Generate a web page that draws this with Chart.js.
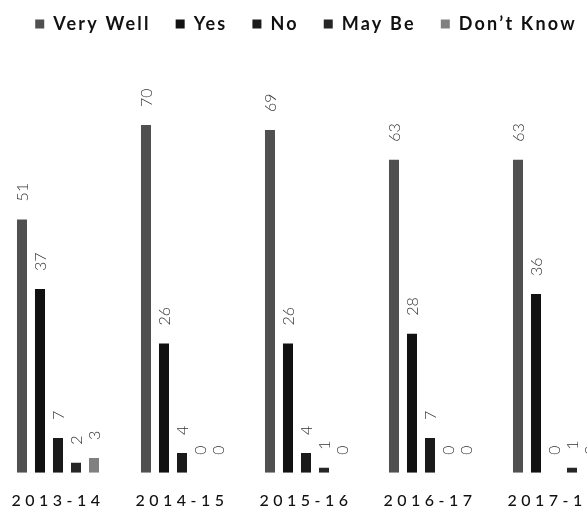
<!DOCTYPE html>
<html><head><meta charset="utf-8">
<script src="https://cdn.jsdelivr.net/npm/chart.js@4/dist/chart.umd.min.js"></script>
<style>
html,body{margin:0;padding:0;background:#fff;overflow:hidden;width:587px;height:513px;}
#wrap{position:absolute;left:-4px;top:0;width:620px;height:513px;}
</style></head><body>
<div id="wrap"><canvas id="c"></canvas></div>
<script>
const categories = ['2013-14','2014-15','2015-16','2016-17','2017-18'];
const seriesNames = ['Very Well','Yes','No','May Be','Don\u2019t Know'];
const veryWell = [51,70,69,63,63];
const yes = [37,26,26,28,36];
const no = [7,4,4,7,0];
const mayBe = [2,0,1,0,1];
const dontKnow = [3,0,0,0,0];
const seriesValues = [veryWell, yes, no, mayBe, dontKnow];
const colors = ['#505050','#111111','#1a1a1a','#262626','#808080'];

const valueLabels = {
  id:'valueLabels',
  afterDatasetsDraw(chart){
    const ctx = chart.ctx;
    chart.data.datasets.forEach((ds,i)=>{
      const meta = chart.getDatasetMeta(i);
      meta.data.forEach((bar,j)=>{
        ctx.save();
        ctx.letterSpacing = '0px';
        ctx.font = '300 16px Lato';
        ctx.fillStyle = '#333';
        ctx.translate(bar.x + 0.5, bar.y - 18);
        ctx.rotate(-Math.PI/2);
        ctx.textAlign = 'left';
        ctx.textBaseline = 'middle';
        ctx.fillText(String(ds.data[j]), 0, 0);
        ctx.restore();
      });
    });
  }
};

const spacing = {
  id:'spacing',
  beforeLayout(chart){ chart.ctx.letterSpacing = '2.2px'; },
  beforeDraw(chart){
    chart.ctx.letterSpacing = '2.2px';
    const s = chart.scales.x;
    if (s && !s._ls){
      const orig = s.drawLabels.bind(s);
      s.drawLabels = function(a){
        const c = this.ctx; const p = c.letterSpacing;
        c.letterSpacing = '4.5px'; orig(a); c.letterSpacing = p;
      };
      s._ls = true;
    }
  }
};

new Chart(document.getElementById('c'), {
  type:'bar',
  data:{
    labels: categories,
    datasets: seriesNames.map((n,i)=>({
      label:n, data:seriesValues[i], backgroundColor:colors[i], borderWidth:0,
      categoryPercentage:0.726, barPercentage:0.556
    }))
  },
  options:{
    responsive:true, maintainAspectRatio:false, animation:false,
    layout:{padding:{top:-10,bottom:-15,left:0,right:0}},
    plugins:{
      legend:{position:'top',labels:{font:{family:'Lato',size:18,weight:'bold'},color:'#111',boxWidth:9,boxHeight:9,padding:25}},
      tooltip:{enabled:false}
    },
    scales:{
      x:{grid:{display:false,drawTicks:false},border:{display:false},
         ticks:{font:{family:'Lato',size:16,weight:'500'},color:'#111',padding:18,maxRotation:0,autoSkip:false}},
      y:{display:false,min:0,max:86.5}
    }
  },
  plugins:[spacing, valueLabels]
});
</script></body></html>
